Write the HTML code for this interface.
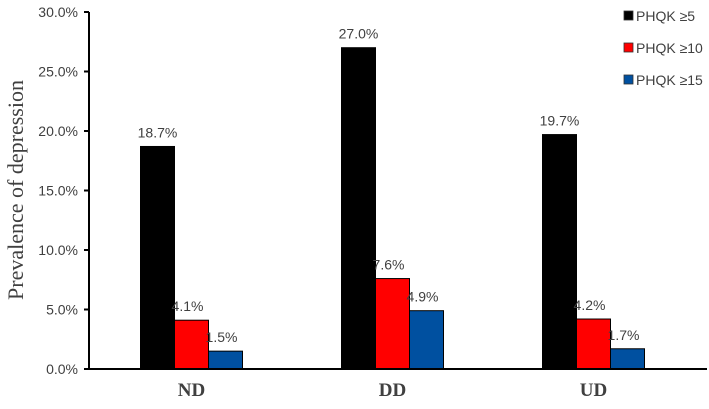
<!DOCTYPE html>
<html><head><meta charset="utf-8"><style>
body{margin:0;background:#fff;}
svg{display:block;font-family:"Liberation Sans",sans-serif;}
</style></head><body>
<svg id="chart" width="709" height="409"></svg>
<script>
const categories=["ND","DD","UD"];
const seriesNames=["PHQK ≥5","PHQK ≥10","PHQK ≥15"];
const seriesColors=["#000000","#ff0000","#0050a0"];
const s5=[18.7,27.0,19.7];
const s10=[4.1,7.6,4.2];
const s15=[1.5,4.9,1.7];
const yTicks=[0,5,10,15,20,25,30];
const series=[s5,s10,s15];
const NS="http://www.w3.org/2000/svg";
const svg=document.getElementById('chart');
const x0=89,x1=692,yTop=12,yBot=369,yMax=30;
const y=v=>yBot-(v/yMax)*(yBot-yTop);
const catW=(x1-x0)/categories.length;
const barW=34;
function mk(t,a,txt){const e=document.createElementNS(NS,t);for(const k in a)e.setAttribute(k,a[k]);if(txt!==undefined)e.textContent=txt;svg.appendChild(e);return e;}
categories.forEach((c,i)=>{
  const cx=x0+catW*(i+0.5)+2;
  series.forEach((s,j)=>{
    const bx=cx-barW*1.5+j*barW;
    const r=mk('rect',{x:bx,y:y(s[i]),width:barW,height:yBot-y(s[i]),fill:seriesColors[j],stroke:'#000','stroke-width':1});
    
    
    const t=mk('text',{x:bx+barW/2-(j>0?4:0),y:y(s[i])-9,'text-anchor':'middle','font-size':14,fill:'#404040'},s[i].toFixed(1)+'%');
    
    
  });
  const l=mk('text',{x:cx,y:396,'text-anchor':'middle','font-size':19,'font-weight':'bold','font-family':'Liberation Serif, serif',fill:'#404040'},c);
  
  
});
yTicks.forEach(v=>{
  const tk=mk('line',{x1:84,x2:x0,y1:y(v),y2:y(v),stroke:'#000','stroke-width':2});
  
  
  const t=mk('text',{x:78,y:y(v)+5,'text-anchor':'end','font-size':14,fill:'#404040'},v.toFixed(1)+'%');
  
  
});
const ax=mk('line',{x1:x0,x2:x0,y1:yTop,y2:yBot+1,stroke:'#000','stroke-width':2});


const xa=mk('line',{x1:x0-1,x2:x1+15,y1:yBot,y2:yBot,stroke:'#000','stroke-width':2});


const yt=mk('text',{x:0,y:0,transform:'translate(23,190) rotate(-90)','text-anchor':'middle','font-size':22,'font-family':'Liberation Serif, serif',fill:'#404040'},'Prevalence of depression');


seriesNames.forEach((n,j)=>{
  const ly=16+j*32;
  const sq=mk('rect',{x:624,y:ly-5,width:9,height:9,fill:seriesColors[j],stroke:'#333','stroke-width':0.8});
  
  
  const t=mk('text',{x:636,y:ly+5,'font-size':14,fill:'#404040'},n);
  
  
});
</script>
</body></html>
